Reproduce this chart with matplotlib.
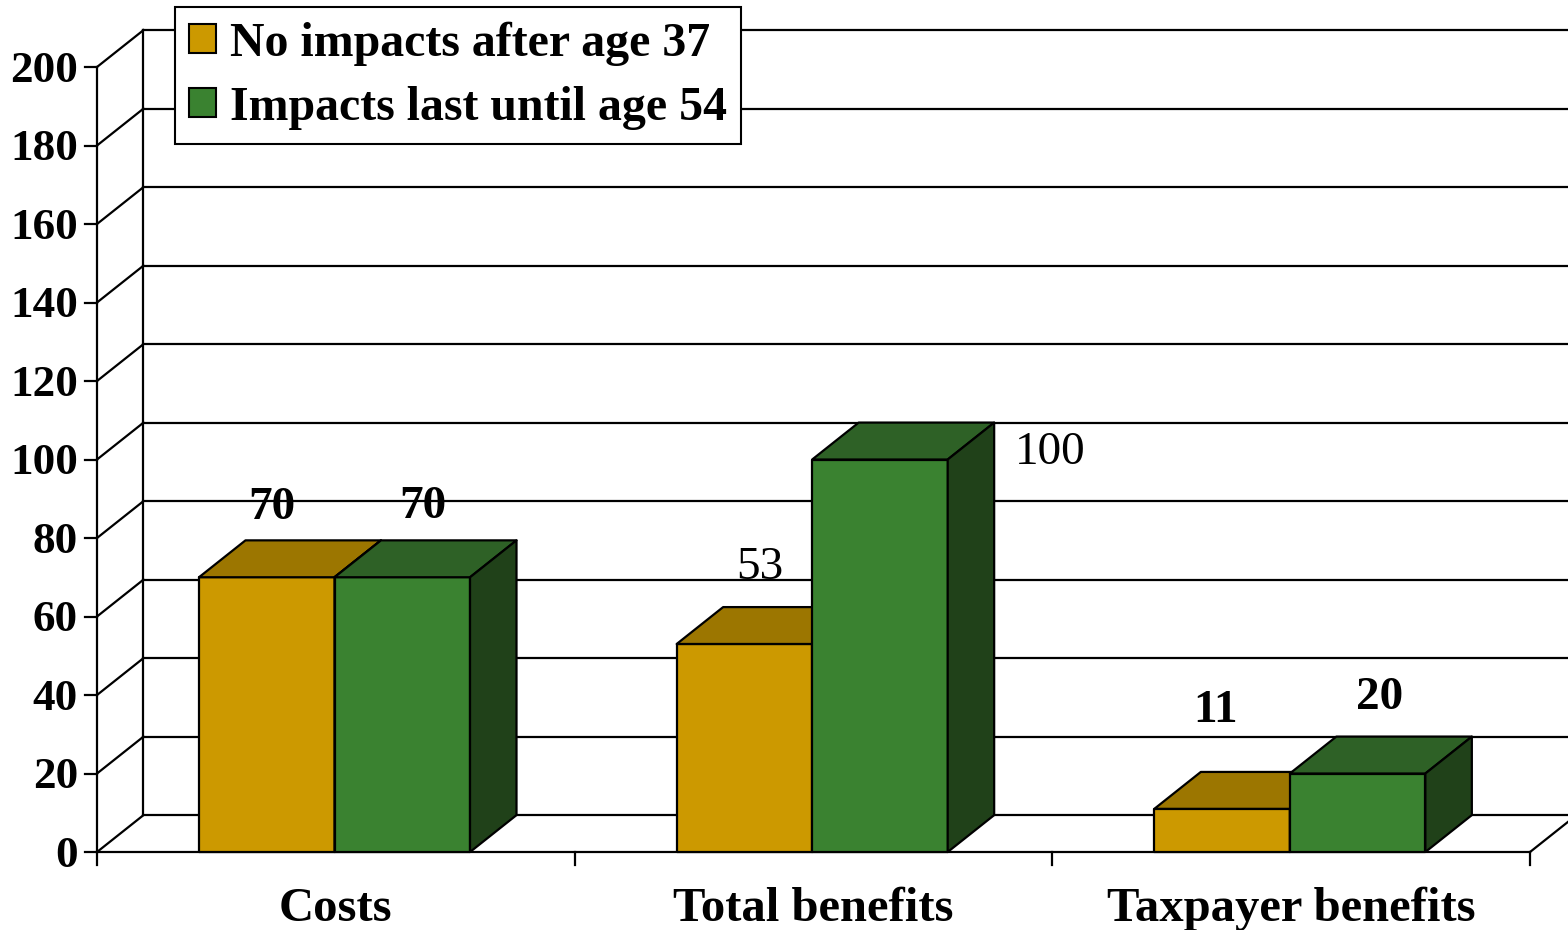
import matplotlib
matplotlib.use("Agg")
import matplotlib.pyplot as plt
from matplotlib.patches import Polygon, Patch

# ── data ──
categories = ["Costs", "Total benefits", "Taxpayer benefits"]
series_names = ["No impacts after age 37", "Impacts last until age 54"]
no_impacts = [70, 53, 11]
impacts_54 = [70, 100, 20]
yticks = [0, 20, 40, 60, 80, 100, 120, 140, 160, 180, 200]

# label nudges (x in category units, y in value units) and weights
label_dx = [[0.011, 0.033, -0.013], [0.044, 0.356, 0.047]]
label_dy = [[17.7, 19.4, 25.0], [18.0, 1.7, 19.3]]
label_bold = [[True, False, True], [True, False, True]]

# ── style ──
front_cols = ["#CC9900", "#3A8230"]
top_cols = ["#9C7600", "#2E6126"]
side_cols = ["#997300", "#204119"]
FONT = "Liberation Serif"
DX, DY = 0.0973, 9.4      # depth offset of the 3D box
W = 0.2837                # bar width
OFF = 0.2135              # left edge of the first bar within a category
LW = 1.6

fig = plt.figure(figsize=(15.68, 9.30), dpi=100)
ax = fig.add_axes([0, 0, 1, 1])
ax.set_xlim(-0.2031, 3.0795)
ax.set_ylim(-19.87, 217.07)
ax.axis("off")

ncat = len(categories)

# ── walls and floor ──
for v in yticks:
    ax.plot([DX, ncat + DX + 1], [v + DY, v + DY], color="black", lw=LW, zorder=1)
    ax.plot([0, DX], [v, v + DY], color="black", lw=LW, zorder=1)
    ax.plot([-0.025, 0], [v, v], color="black", lw=LW, zorder=1)
ax.plot([0, 0], [0, yticks[-1]], color="black", lw=LW, zorder=1)
ax.plot([DX, DX], [DY, yticks[-1] + DY], color="black", lw=LW, zorder=1)
ax.plot([0, ncat], [0, 0], color="black", lw=LW, zorder=1)
ax.plot([ncat, ncat + DX], [0, DY], color="black", lw=LW, zorder=1)
for i in range(ncat + 1):
    ax.plot([i, i], [0, -3.3], color="black", lw=LW, zorder=1)


# ── bars ──
def box(x0, h, k):
    x1 = x0 + W
    front = [(x0, 0), (x1, 0), (x1, h), (x0, h)]
    top = [(x0, h), (x1, h), (x1 + DX, h + DY), (x0 + DX, h + DY)]
    side = [(x1, 0), (x1 + DX, DY), (x1 + DX, h + DY), (x1, h)]
    for pts, c in ((front, front_cols[k]), (top, top_cols[k]), (side, side_cols[k])):
        ax.add_patch(Polygon(pts, closed=True, facecolor=c, edgecolor="black",
                             lw=LW, joinstyle="round", zorder=3))


for i in range(ncat):
    for k, vals in enumerate((no_impacts, impacts_54)):
        x0 = i + OFF + k * W
        box(x0, vals[i], k)
        ax.text(x0 + W / 2 + label_dx[k][i], vals[i] + label_dy[k][i], str(vals[i]),
                ha="center", va="center", fontsize=34, family=FONT,
                fontweight="bold" if label_bold[k][i] else "normal", zorder=5)

# ── axis labels ──
for v in yticks:
    ax.text(-0.040, v - 1.0, str(v), ha="right", va="center", fontsize=32.5,
            family=FONT, fontweight="bold")
for i, name in enumerate(categories):
    ax.text(i + 0.5, -14.5, name, ha="center", va="center", fontsize=35,
            family=FONT, fontweight="bold")

# ── legend ──
handles = [Patch(facecolor=front_cols[k], edgecolor="black", lw=1.5)
           for k in range(2)]
leg = fig.legend(handles, series_names, loc="upper left",
                 bbox_to_anchor=(175 / 1568, 1 - 7 / 930), borderaxespad=0,
                 prop={"family": FONT, "weight": "bold", "size": 34.5},
                 handlelength=0.55, handleheight=0.55, handletextpad=0.3,
                 borderpad=0.3, labelspacing=0.42, fancybox=False,
                 framealpha=1, edgecolor="black")
leg.get_frame().set_linewidth(1.5)
leg.set_zorder(10)

fig.savefig("out.png", dpi=100)
